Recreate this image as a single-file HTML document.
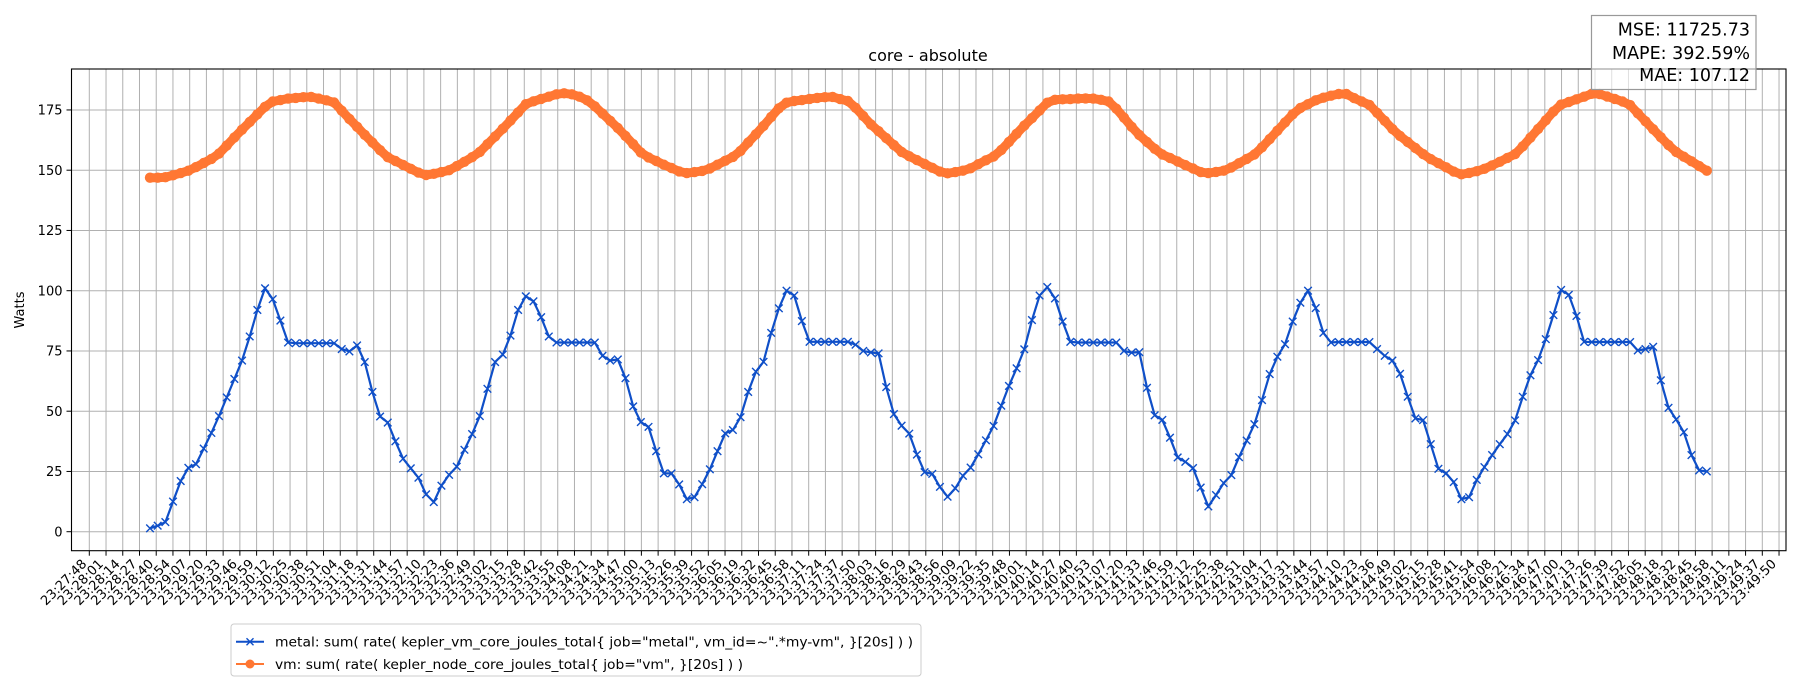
<!DOCTYPE html>
<html><head><meta charset="utf-8"><title>core - absolute</title>
<style>html,body{margin:0;padding:0;background:#fff}svg{display:block}text{font-family:"DejaVu Sans","Liberation Sans",sans-serif;fill:#000}</style>
</head><body>
<svg id="chart" xmlns="http://www.w3.org/2000/svg" width="1800" height="700" viewBox="0 0 1800 700">
<rect x="0" y="0" width="1800" height="700" fill="#fff"/>
<g id="grid"></g>
<g id="series"></g>
<rect x="71.5" y="69" width="1714.5" height="481.7" fill="none" stroke="#000" stroke-width="1.1"/>
<g id="xticks"></g>
<g id="yticks"></g>
<text x="928" y="61" font-size="16" text-anchor="middle">core - absolute</text>
<text x="0" y="0" font-size="13" text-anchor="middle" transform="translate(24,310) rotate(-90)">Watts</text>
<g>
<rect x="231" y="624" width="690" height="52" rx="3" fill="#fff" stroke="#ccc" stroke-width="1"/>
<g>
<line x1="236" y1="641.7" x2="264" y2="641.7" stroke="#0f4fc8" stroke-width="2"/>
<path d="M246.5,638.2L253.5,645.2M246.5,645.2L253.5,638.2" stroke="#0f4fc8" stroke-width="1.4"/>
<text x="275" y="646.5" font-size="13.5" textLength="638" lengthAdjust="spacingAndGlyphs">metal: sum( rate( kepler_vm_core_joules_total{ job="metal", vm_id=~".*my-vm", }[20s] ) )</text>
</g>
<g>
<line x1="236" y1="664" x2="264" y2="664" stroke="#ff7733" stroke-width="2"/>
<circle cx="250" cy="664" r="4.5" fill="#ff7733"/>
<text x="275" y="668.8" font-size="13.5" textLength="468" lengthAdjust="spacingAndGlyphs">vm: sum( rate( kepler_node_core_joules_total{ job="vm", }[20s] ) )</text>
</g>
</g>
<g>
<rect x="1591.5" y="15.5" width="164.5" height="74" fill="rgba(255,255,255,0.6)" stroke="#999" stroke-width="1.2"/>
<text x="1750" y="35.5" font-size="17.5" text-anchor="end">MSE: 11725.73</text>
<text x="1750" y="59" font-size="17.5" text-anchor="end">MAPE: 392.59%</text>
<text x="1750" y="81" font-size="17.5" text-anchor="end">MAE: 107.12</text>
</g>
</svg>
<script>
// ---- data ----
const startTime = "23:27:48";           // x-axis origin
const tickCount = 102;                  // number of x ticks
const tickStepSec = 13.089;             // seconds between x ticks
const yTicks = [0, 25, 50, 75, 100, 125, 150, 175];
const sampleStartSec = 47.5;            // first sample, seconds after startTime
const sampleStepSec = 6;                // seconds between samples
const metalValues = [1.4,2.5,4,12.5,21,26.5,28,34.5,41,48,55.7,63.4,71,81,92,101,96.5,87.6,78.5,78.2,78.2,78.2,78.2,78.2,78.2,75.8,74.8,77.3,70.4,58,47.8,45.3,37.5,30.3,26.3,22.4,15.5,12.3,19.1,23.6,27,34,40.5,48,59.3,70.4,73.5,81.4,92,97.7,95.6,89,81,78.5,78.5,78.5,78.5,78.5,78.5,73,71,71.5,63.7,52,45.5,43.5,33.4,24.2,24.2,19.6,13.5,14.3,19.7,25.9,33.4,40.8,42.2,47.5,58,66.4,70.5,82.5,92.7,100,98,87.4,78.8,78.8,78.8,78.8,78.8,78.8,77.6,75,74.4,74,60,48.8,44,40.7,32,24.7,24,18.6,14.5,18,23.2,26.6,32.1,37.9,43.9,52.3,60.5,67.8,75.7,87.8,98,101.5,96.8,87.2,78.8,78.5,78.5,78.5,78.5,78.5,78.5,75,74.3,74.5,59.7,48.3,46.4,39,30.8,29,26.4,18.3,10.5,15.2,20.2,23.5,30.9,37.8,44.6,54.6,65.4,72.6,77.8,87.2,95,100,92.8,82.5,78.5,78.7,78.7,78.7,78.7,78.7,75.8,73,71,65.5,56,47,46.3,36.3,26.1,24.2,20.6,13.5,14.3,21.5,26.8,31.8,36.3,40.5,46.2,56,64.9,71.2,79.9,89.9,100.3,98.3,89.5,78.8,78.7,78.7,78.7,78.7,78.7,78.7,75.2,75.8,76.7,62.8,51.4,46.6,41.3,31.8,25.4,25];
const vmValues = [146.9,146.9,147.1,147.9,148.8,149.8,151.3,153,154.7,156.9,160.2,163.6,166.8,170,173.2,176.3,178.5,179.1,179.7,180,180.3,180.4,179.7,179,178.1,174.7,171.3,168,164.7,161.5,158.3,155.4,153.8,152.2,150.6,149,148,148.5,149.2,150,151.7,153.5,155.4,157.6,160.8,164,167.2,170.6,174,177.4,178.6,179.6,180.5,181.5,181.9,181.5,180.5,179,176.5,173.5,170.5,167.5,164.2,160.8,157.4,155.3,153.8,152.3,150.9,149.5,148.8,149.2,149.7,150.7,152.3,153.9,155.5,158,161.5,164.9,168.4,172.1,175.7,178,178.7,179.1,179.6,180,180.3,180.4,179.5,178.7,175.9,172.5,169,166.2,163.3,160.4,157.6,155.8,154.2,152.6,151,149.4,148.7,149.2,149.8,150.8,152.5,154.1,155.7,158.4,161.7,165.1,168.5,171.6,174.8,178,179.2,179.4,179.5,179.7,179.8,179.7,179.2,178.5,175.5,171.8,168,164.6,161.7,158.9,156.5,155.1,153.6,152.1,150.7,149.2,148.8,149.3,149.8,151.1,152.9,154.7,156.5,159.5,162.9,166.4,169.8,173.2,175.8,177.4,179,180.1,180.9,181.6,181.6,179.9,178.5,177.1,173.8,170.5,167.1,164.2,161.7,159.2,156.7,154.6,152.9,151.2,149.4,148.3,148.9,149.6,150.6,152,153.5,155.1,156.7,159.9,163.5,167.1,170.7,174.3,177.2,178.3,179.4,180.5,181.7,181.6,180.6,179.6,178.5,177,173.6,170.3,167,163.7,160.4,157.6,155.6,153.7,151.7,149.8];

// ---- axes ----
const NS = "http://www.w3.org/2000/svg";
const X0 = 89.3, PX_PER_SEC = 16.73 / tickStepSec;
const Y0 = 531.7, PX_PER_UNIT = 2.41;
const PLOT_L = 71.5, PLOT_R = 1786, PLOT_T = 69, PLOT_B = 550.7;
function xScale(sec) { return X0 + sec * PX_PER_SEC; }
function yScale(v) { return Y0 - v * PX_PER_UNIT; }
function mk(tag, attrs, parent) {
  const el = document.createElementNS(NS, tag);
  for (const k in attrs) el.setAttribute(k, attrs[k]);
  parent.appendChild(el);
  return el;
}
function fmt(totalSec) {
  const h = Math.floor(totalSec / 3600), m = Math.floor(totalSec / 60) % 60, s = totalSec % 60;
  return String(h).padStart(2, "0") + ":" + String(m).padStart(2, "0") + ":" + String(s).padStart(2, "0");
}
const sp = startTime.split(":").map(Number);
const startSec = sp[0] * 3600 + sp[1] * 60 + sp[2];
const xTickLabels = [];
for (let i = 0; i < tickCount; i++) xTickLabels.push(fmt(startSec + Math.floor(0.6 + i * tickStepSec)));

const grid = document.getElementById("grid");
const xt = document.getElementById("xticks");
const yt = document.getElementById("yticks");

xTickLabels.forEach((lab, i) => {
  const x = xScale(i * tickStepSec);
  const gl = mk("line", {x1: x, x2: x, y1: PLOT_T, y2: PLOT_B, stroke: "#b0b0b0", "stroke-width": 1}, grid);
  
  
  const tk = mk("line", {x1: x, x2: x, y1: PLOT_B, y2: PLOT_B + 5, stroke: "#000", "stroke-width": 1}, xt);
  
  
  const t = mk("text", {x: 0, y: 0, "font-size": 13, "text-anchor": "end", transform: "translate(" + (x - 2) + "," + (PLOT_B + 14) + ") rotate(-45)"}, xt);
  t.textContent = lab;
  
  
});

yTicks.forEach(v => {
  const y = yScale(v);
  const gl = mk("line", {x1: PLOT_L, x2: PLOT_R, y1: y, y2: y, stroke: "#b0b0b0", "stroke-width": 1}, grid);
  
  
  const tk = mk("line", {x1: PLOT_L - 5, x2: PLOT_L, y1: y, y2: y, stroke: "#000", "stroke-width": 1}, yt);
  
  
  const t = mk("text", {x: PLOT_L - 9, y: y + 4.7, "font-size": 13, "text-anchor": "end"}, yt);
  t.textContent = String(v);
  
  
});

// ---- series ----
const series = document.getElementById("series");
function pts(vals) { return vals.map((v, k) => [xScale(sampleStartSec + k * sampleStepSec), yScale(v)]); }

const vmPts = pts(vmValues);
const vmG = mk("g", {}, series);


const vmLine = mk("polyline", {points: vmPts.map(p => p[0].toFixed(1) + "," + p[1].toFixed(1)).join(" "), fill: "none", stroke: "#ff7733", "stroke-width": 9, "stroke-linejoin": "round", "stroke-linecap": "round"}, vmG);


vmPts.forEach(p => {
  const c = mk("circle", {cx: p[0].toFixed(1), cy: p[1].toFixed(1), r: 5.2, fill: "#ff7733"}, vmG);
  
  
});

const mPts = pts(metalValues);
const mG = mk("g", {}, series);


const mLine = mk("polyline", {points: mPts.map(p => p[0].toFixed(1) + "," + p[1].toFixed(1)).join(" "), fill: "none", stroke: "#0f4fc8", "stroke-width": 2.2}, mG);


mPts.forEach(p => {
  const s = 3.8, x = p[0], y = p[1];
  const d = "M" + (x - s) + "," + (y - s) + "L" + (x + s) + "," + (y + s) + "M" + (x - s) + "," + (y + s) + "L" + (x + s) + "," + (y - s);
  const m = mk("path", {d: d, stroke: "#0f4fc8", "stroke-width": 1.4, fill: "none"}, mG);
  
  
});
</script>
</body></html>
